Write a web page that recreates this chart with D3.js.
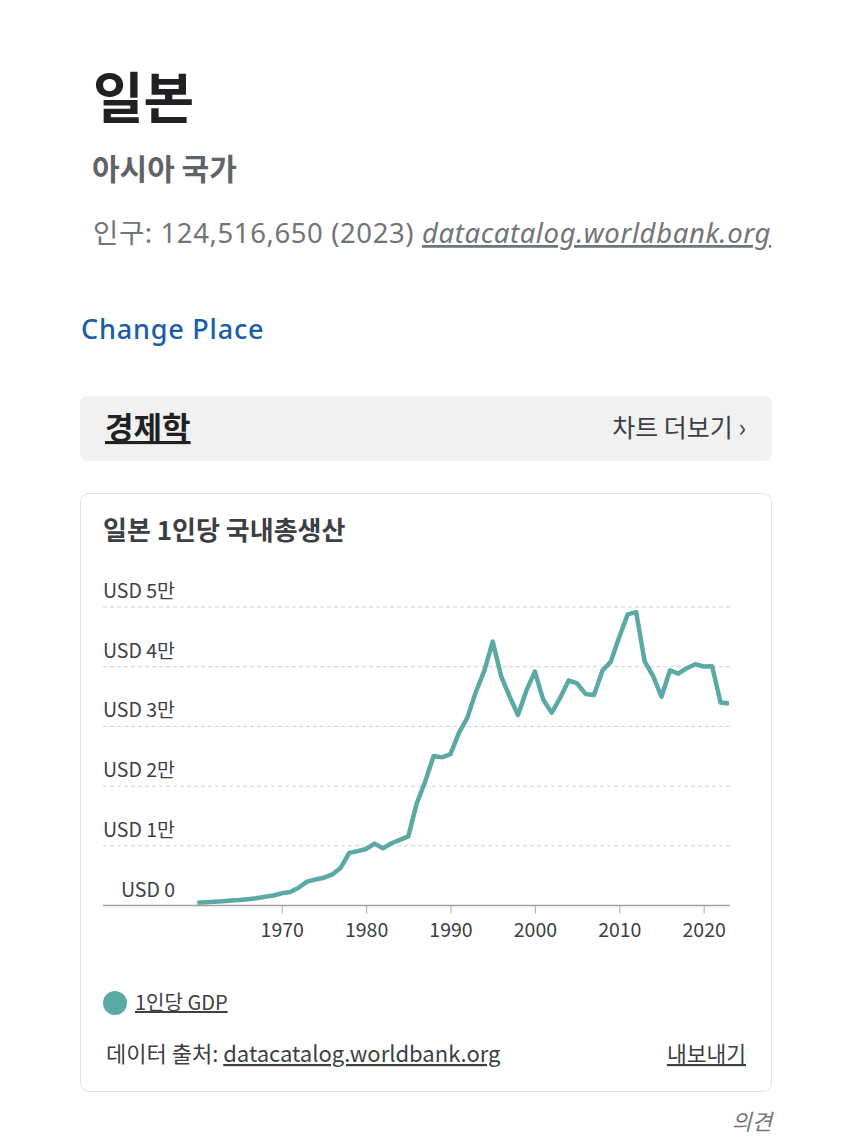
<!DOCTYPE html>
<html><head><meta charset="utf-8">
<script src="https://cdn.jsdelivr.net/npm/d3@7"></script>
<style>
html,body{margin:0;padding:0;background:#fff;}
svg{display:block;font-family:"Noto Sans CJK KR","Noto Sans",sans-serif;}
</style></head>
<body>
<svg id="c" width="850" height="1138"></svg>
<script>
const years = d3.range(1960, 2024);
const gdpPerCapita = [
  475, 564, 633, 718, 835, 920, 1059, 1229, 1450, 1669,
  2038, 2272, 2967, 3998, 4354, 4659, 5198, 6335, 8821, 9105,
  9463, 10361, 9578, 10425, 10984, 11585, 17112, 20745, 25051, 24813,
  25359, 28925, 31465, 35766, 39269, 44198, 38437, 35022, 31903, 36027,
  39169, 34406, 32289, 34808, 37688, 37218, 35434, 35275, 39339, 40855,
  44968, 48760, 49145, 40898, 38475, 34961, 39375, 38834, 39751, 40416,
  40041, 40059, 34017, 33834
];
const yTicks = [0, 10000, 20000, 30000, 40000, 50000];
const yTickLabels = ["USD 0", "USD 1만", "USD 2만", "USD 3만", "USD 4만", "USD 5만"];
const xTicks = [1970, 1980, 1990, 2000, 2010, 2020];
const seriesName = "1인당 GDP";
const lineColor = "#5ba9a4";

const svg = d3.select("#c");
const latin = "\"Noto Sans\",\"Noto Sans CJK KR\",sans-serif";

// Header texts
svg.append("text").attr("x", 93).attr("y", 118).attr("font-size", 55).attr("font-weight", 700)
  .attr("fill", "#202124").text("일본");
svg.append("text").attr("x", 92).attr("y", 180).attr("font-size", 30).attr("font-weight", 700)
  .attr("fill", "#5f6368").text("아시아 국가");
const pop = svg.append("text").attr("x", 93).attr("y", 243).attr("font-size", 27.5)
  .attr("letter-spacing", 0.6).attr("font-family", latin).attr("fill", "#70757a");
pop.append("tspan").text("인구: 124,516,650 (2023) ");
pop.append("tspan").attr("font-style", "italic").attr("text-decoration", "underline").text("datacatalog.worldbank.org");
svg.append("text").attr("x", 81).attr("y", 339).attr("font-size", 27).attr("font-weight", 500)
  .attr("letter-spacing", 0.8).attr("font-family", latin).attr("fill", "#1a5ea8").text("Change Place");

// Section bar
svg.append("rect").attr("x", 80).attr("y", 396).attr("width", 692).attr("height", 65).attr("rx", 8)
  .attr("fill", "#f1f1f1");
svg.append("text").attr("x", 105).attr("y", 439).attr("font-size", 31).attr("font-weight", 700)
  .attr("fill", "#202124").attr("text-decoration", "underline").text("경제학");
svg.append("text").attr("x", 746).attr("y", 437).attr("font-size", 25).attr("text-anchor", "end")
  .attr("fill", "#3c4043").text("차트 더보기 ›");

// Card
svg.append("rect").attr("x", 80.5).attr("y", 493.5).attr("width", 691).attr("height", 598).attr("rx", 8)
  .attr("fill", "#fff").attr("stroke", "#e3e3e3");
svg.append("text").attr("x", 103).attr("y", 540).attr("font-size", 26).attr("font-weight", 700)
  .attr("fill", "#3c4043").text("일본 1인당 국내총생산");

// Scales
const x = d3.scaleLinear().domain([1960, 2023]).range([197.3, 729]);
const y = d3.scaleLinear().domain([0, 50000]).range([905.5, 607]);

// Gridlines
const g = svg.append("g");
g.selectAll("line.grid").data(yTicks.slice(1)).join("line").attr("class", "grid")
  .attr("x1", 103).attr("x2", 730).attr("y1", d => y(d)).attr("y2", d => y(d))
  .attr("stroke", "#d0d0d0").attr("stroke-dasharray", "4,3");
g.selectAll("text.ylab").data(yTicks).join("text").attr("class", "ylab")
  .attr("x", 175).attr("y", d => y(d) - 9).attr("text-anchor", "end")
  .attr("font-size", 19.5).attr("fill", "#3c4043")
  .text((d, i) => yTickLabels[i]);

// X axis
const xAxis = d3.axisBottom(x).tickValues(xTicks).tickFormat(d3.format("d")).tickSize(8).tickSizeOuter(0);
const ax = svg.append("g").attr("transform", `translate(0,${y(0)})`).call(xAxis);
ax.select(".domain").remove();
ax.selectAll(".tick line").attr("stroke", "#aaa");
ax.selectAll(".tick text").attr("font-size", 19.5).attr("fill", "#3c4043").attr("dy", "1.05em")
  .attr("font-family", "\"Noto Sans CJK KR\",sans-serif");
svg.append("line").attr("x1", 103).attr("x2", 730).attr("y1", y(0)).attr("y2", y(0))
  .attr("stroke", "#a0a0a0").attr("stroke-width", 1.5);

// Line
const data = years.map((yr, i) => ({ yr, v: gdpPerCapita[i] }));
svg.append("path").datum(data)
  .attr("d", d3.line().x(d => x(d.yr)).y(d => y(d.v)))
  .attr("fill", "none").attr("stroke", lineColor).attr("stroke-width", 4.5)
  .attr("stroke-linejoin", "round").attr("stroke-linecap", "butt");

// Legend
svg.append("circle").attr("cx", 115).attr("cy", 1003).attr("r", 12).attr("fill", lineColor);
svg.append("text").attr("x", 135).attr("y", 1010).attr("font-size", 20).attr("fill", "#3c4043")
  .attr("text-decoration", "underline").text(seriesName);

// Footer
const src = svg.append("text").attr("x", 106).attr("y", 1062).attr("font-size", 22).attr("fill", "#3c4043");
src.append("tspan").text("데이터 출처: ");
src.append("tspan").attr("text-decoration", "underline").text("datacatalog.worldbank.org");
svg.append("text").attr("x", 746).attr("y", 1062).attr("font-size", 21.5).attr("text-anchor", "end")
  .attr("fill", "#3c4043").attr("text-decoration", "underline").text("내보내기");
svg.append("text").attr("x", 772).attr("y", 1130).attr("font-size", 22).attr("text-anchor", "end")
  .attr("font-style", "italic").attr("fill", "#70757a").text("의견");
</script>
</body></html>
